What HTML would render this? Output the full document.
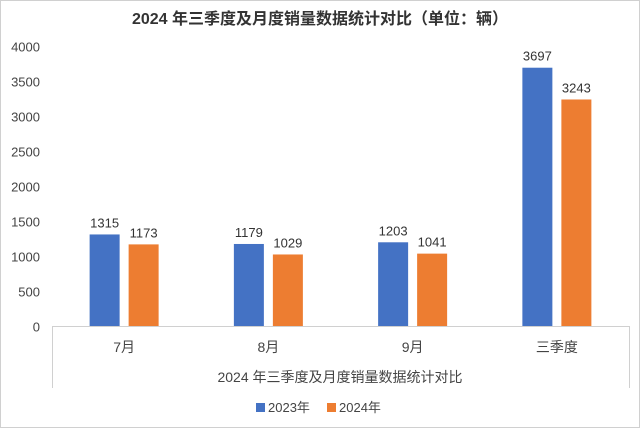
<!DOCTYPE html>
<html><head><meta charset="utf-8"><style>
body{margin:0;width:640px;height:428px;background:#fff;overflow:hidden}
svg{display:block;font-family:"Liberation Sans","Noto Sans CJK SC",sans-serif}
</style></head><body>
<svg width="640" height="428">
<rect x="0.5" y="0.5" width="639" height="427" fill="#fff" stroke="#d0d0d0"/>
<text x="320" y="24" text-anchor="middle" font-size="16" font-weight="bold" fill="#333">2024 年三季度及月度销量数据统计对比（单位：辆）</text>
<g id="yaxis"></g><g id="bars"></g>
<line x1="52" y1="326.5" x2="629" y2="326.5" stroke="#d0d0d0"/>
<line x1="52.5" y1="326" x2="52.5" y2="388" stroke="#d0d0d0"/>
<line x1="629.5" y1="326" x2="629.5" y2="388" stroke="#d0d0d0"/>
<text x="340" y="382" text-anchor="middle" font-size="14" fill="#444">2024 年三季度及月度销量数据统计对比</text>
<g>
<rect x="256" y="403" width="9" height="9" fill="#4472c4"/>
<text x="268" y="412" font-size="13" fill="#444">2023年</text>
<rect x="327" y="403" width="9" height="9" fill="#ed7d31"/>
<text x="339" y="412" font-size="13" fill="#444">2024年</text>
</g>
</svg>
<script>
const categories=["7月","8月","9月","三季度"];
const s2023=[1315,1179,1203,3697];
const s2024=[1173,1029,1041,3243];
const yTicks=[0,500,1000,1500,2000,2500,3000,3500,4000];
const NS="http://www.w3.org/2000/svg";
const x0=52,x1=629,y0=326.5,yMax=4000,plotTop=46.5;
const y=v=>y0-(v/yMax)*(y0-plotTop);
const cw=(x1-x0)/categories.length;
const xc=i=>x0+cw*(i+0.5);
function mk(t,a,p){const e=document.createElementNS(NS,t);for(const k in a)e.setAttribute(k,a[k]);p.appendChild(e);return e;}
const ya=document.getElementById('yaxis');
yTicks.forEach(v=>{const t=mk('text',{x:40,y:y(v)+5,'text-anchor':'end','font-size':13,fill:'#444'},ya);t.textContent=v;

});
const bg=document.getElementById('bars');
categories.forEach((c,i)=>{
 const cx=xc(i);
 [[s2023,'#4472c4',-34.5,'2023'],[s2024,'#ed7d31',4.5,'2024']].forEach(([s,col,off,n])=>{
  const r=mk('rect',{x:cx+off,y:y(s[i]),width:30,height:y0-y(s[i]),fill:col},bg);
  
  
  const t=mk('text',{x:cx+off+15,y:y(s[i])-7,'text-anchor':'middle','font-size':13,fill:'#333'},bg);t.textContent=s[i];
  
  
 });
 const l=mk('text',{x:cx,y:352,'text-anchor':'middle','font-size':14,fill:'#444'},bg);l.textContent=c;
 
 
});
</script>
</body></html>
